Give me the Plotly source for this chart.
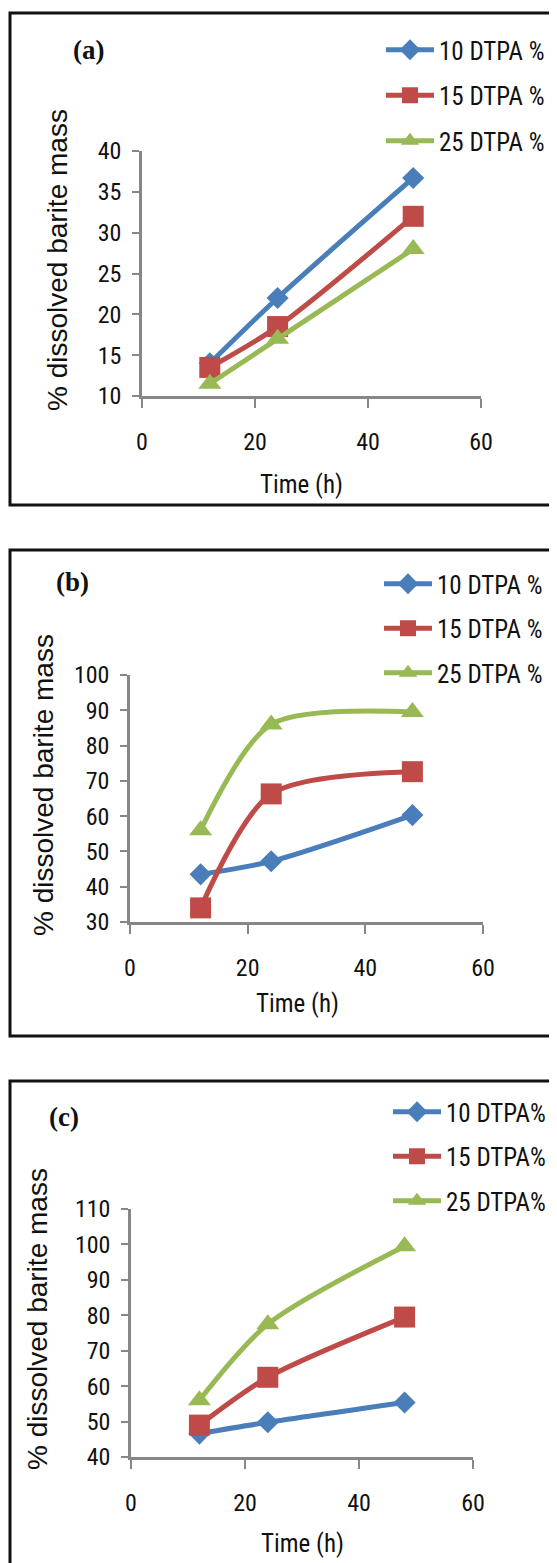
import plotly.graph_objects as go

# ---------------- data ----------------
time_h = [12, 24, 48]

series_names_ab = ["10 DTPA %", "15 DTPA %", "25 DTPA %"]
series_names_c = ["10 DTPA%", "15 DTPA%", "25 DTPA%"]

a_dtpa10 = [14.0, 22.0, 36.7]
a_dtpa15 = [13.5, 18.5, 32.0]
a_dtpa25 = [11.5, 17.0, 28.0]

b_dtpa10 = [43.5, 47.2, 60.3]
b_dtpa15 = [34.0, 66.3, 72.6]
b_dtpa25 = [56.0, 86.0, 89.5]

c_dtpa10 = [46.6, 49.8, 55.4]
c_dtpa15 = [49.0, 62.5, 79.5]
c_dtpa25 = [56.0, 77.5, 99.5]

panel_labels = ["(a)", "(b)", "(c)"]
x_ticks = [0, 20, 40, 60]
y_ticks_a = [10, 15, 20, 25, 30, 35, 40]
y_ticks_b = [30, 40, 50, 60, 70, 80, 90, 100]
y_ticks_c = [40, 50, 60, 70, 80, 90, 100, 110]
x_title = "Time (h)"
y_title = "% dissolved barite mass"

# ---------------- styling / layout ----------------
OFF = 8                      # page body margin of the html page
W, H = 557 - OFF, 1563 - OFF  # figure size so it fits the window exactly
def px(x):
    return (x - OFF) / W
def py(y):
    return 1 - (y - OFF) / H

colors = ["#4A7EBB", "#BE4B48", "#98B954"]
symbols = ["diamond", "square", "triangle-up"]
msizes = [17, 21, 20]
NARROW = "Roboto Condensed, DejaVu Sans Condensed, sans-serif"
SANS = "Liberation Sans, Arial, sans-serif"
SERIF = "Liberation Serif, Times New Roman, serif"
AXC = "#878787"
TXT = "#111111"

panels = [
    dict(data=[a_dtpa10, a_dtpa15, a_dtpa25], names=series_names_ab, yticks=y_ticks_a,
         xdom=(142, 481), ydom=(151, 396), box=(10, 13, 620, 505), gap=10,
         leg=(381, 27), lab=(88, 50), ytit=(57, 260), xtit=(301, 485)),
    dict(data=[b_dtpa10, b_dtpa15, b_dtpa25], names=series_names_ab, yticks=y_ticks_b,
         xdom=(130, 483), ydom=(675, 922), box=(10, 550, 620, 1036), gap=9,
         leg=(379, 561), lab=(72, 582), ytit=(43, 785), xtit=(297, 1003)),
    dict(data=[c_dtpa10, c_dtpa15, c_dtpa25], names=series_names_c, yticks=y_ticks_c,
         xdom=(131, 473), ydom=(1209, 1457), box=(10, 1081, 620, 1700), gap=9,
         leg=(388, 1089), lab=(64, 1117), ytit=(37, 1319), xtit=(302, 1543)),
]

fig = go.Figure()
shapes = []
annotations = []
layout = dict(
    width=W, height=H, margin=dict(l=0, r=0, t=0, b=0, autoexpand=False),
    paper_bgcolor="white", plot_bgcolor="white", showlegend=True,
)

for i, p in enumerate(panels):
    sfx = "" if i == 0 else str(i + 1)
    legname = "legend" + sfx
    for j in range(3):
        fig.add_trace(go.Scatter(
            x=time_h, y=p["data"][j], name=p["names"][j],
            mode="lines+markers",
            line=dict(color=colors[j], width=5, shape="spline", smoothing=0.8),
            marker=dict(symbol=symbols[j], size=msizes[j], color=colors[j]),
            xaxis="x" + sfx, yaxis="y" + sfx, legend=legname,
            legendgroup=f"p{i}s{j}", cliponaxis=False,
        ))
    yt = p["yticks"]
    layout["xaxis" + sfx] = dict(
        domain=[px(p["xdom"][0]), px(p["xdom"][1])], anchor="y" + sfx,
        range=[0, 60], tickvals=x_ticks, showgrid=False, zeroline=False,
        showline=True, linecolor=AXC, linewidth=2.5, automargin=False,
        ticks="outside", ticklen=9, tickwidth=2, tickcolor=AXC,
        tickfont=dict(family=NARROW, size=24, color=TXT), ticklabelstandoff=13,
    )
    layout["yaxis" + sfx] = dict(
        domain=[py(p["ydom"][1]), py(p["ydom"][0])], anchor="x" + sfx,
        range=[yt[0], yt[-1]], tickvals=yt, showgrid=False, zeroline=False,
        showline=True, linecolor=AXC, linewidth=2.5, automargin=False,
        ticks="outside", ticklen=7, tickwidth=2, tickcolor=AXC,
        tickfont=dict(family=NARROW, size=24, color=TXT), ticklabelstandoff=6,
    )
    layout[legname] = dict(
        x=px(p["leg"][0]), y=py(p["leg"][1]), xanchor="left", yanchor="top",
        bgcolor="rgba(0,0,0,0)", borderwidth=0, traceorder="grouped",
        tracegroupgap=p["gap"], itemwidth=48,
        font=dict(family=NARROW, size=25, color=TXT),
    )
    bx = p["box"]
    shapes.append(dict(type="rect", xref="paper", yref="paper",
                       x0=px(bx[0]), x1=px(bx[2]), y0=py(bx[3]), y1=py(bx[1]),
                       line=dict(color=TXT, width=3), fillcolor="rgba(0,0,0,0)"))
    annotations.append(dict(text=f"<b>{panel_labels[i]}</b>", xref="paper", yref="paper",
                            x=px(p["lab"][0]), y=py(p["lab"][1]), showarrow=False,
                            xanchor="center", yanchor="middle",
                            font=dict(family=SERIF, size=27, color=TXT)))
    annotations.append(dict(text=y_title, xref="paper", yref="paper", textangle=-90,
                            x=px(p["ytit"][0]), y=py(p["ytit"][1]), showarrow=False,
                            xanchor="center", yanchor="middle",
                            font=dict(family=SANS, size=28, color=TXT)))
    annotations.append(dict(text=x_title, xref="paper", yref="paper",
                            x=px(p["xtit"][0]), y=py(p["xtit"][1]), showarrow=False,
                            xanchor="center", yanchor="middle",
                            font=dict(family=NARROW, size=25, color=TXT)))

layout["shapes"] = shapes
layout["annotations"] = annotations
fig.update_layout(**layout)
fig.write_html("out.html")
